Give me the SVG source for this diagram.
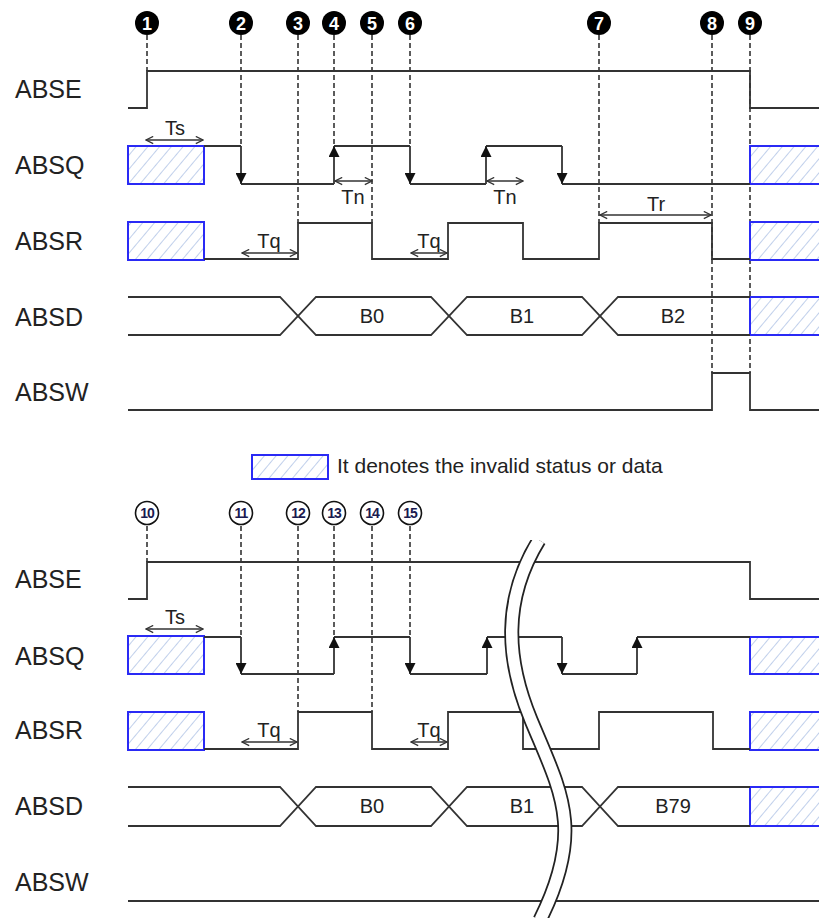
<svg xmlns="http://www.w3.org/2000/svg" width="819" height="918" viewBox="0 0 819 918">
<style>
.sig{fill:none;stroke:#333;stroke-width:1.8}
.dash{fill:none;stroke:#333;stroke-width:1.6;stroke-dasharray:5 3}
.arr{fill:none;stroke:#333;stroke-width:1.8;marker-end:url(#tri)}
.dim{fill:none;stroke:#333;stroke-width:1.3;marker-start:url(#open);marker-end:url(#open)}
.hat{fill:url(#hatch);stroke:#2a2af5;stroke-width:2}
.lbl{font-family:"Liberation Sans",Arial,sans-serif;font-size:25px;fill:#222}
.t{font-family:"Liberation Sans",Arial,sans-serif;font-size:20px;fill:#222;text-anchor:middle}
.num{font-family:"Liberation Sans",Arial,sans-serif;font-size:18px;font-weight:bold;fill:#fff;text-anchor:middle}
.num2{font-family:"Liberation Sans",Arial,sans-serif;font-size:14px;font-weight:bold;fill:#1a1a50;text-anchor:middle;letter-spacing:-1px}
</style>
<defs>
<pattern id="hatch" patternUnits="userSpaceOnUse" width="9" height="9" patternTransform="rotate(40)">
<line x1="0" y1="-1" x2="0" y2="10" stroke="#9fb6e0" stroke-width="1.3"/>
</pattern>
<marker id="tri" markerUnits="userSpaceOnUse" viewBox="0 0 10 10" refX="10" refY="5" markerWidth="11" markerHeight="11" orient="auto">
<path d="M0,0 L10,5 L0,10 z" fill="#111"/>
</marker>
<marker id="open" markerUnits="userSpaceOnUse" viewBox="0 0 10 10" refX="9" refY="5" markerWidth="9" markerHeight="9" orient="auto-start-reverse">
<path d="M1,1 L9,5 L1,9" fill="none" stroke="#333" stroke-width="1.4"/>
</marker>
</defs>
<rect width="819" height="918" fill="#fff"/>

<!-- ===== TOP SECTION ===== -->
<g id="top-labels">
<text class="lbl" x="15" y="98">ABSE</text>
<text class="lbl" x="15" y="174">ABSQ</text>
<text class="lbl" x="15" y="250">ABSR</text>
<text class="lbl" x="15" y="326">ABSD</text>
<text class="lbl" x="15" y="401">ABSW</text>
</g>

<g id="top-connectors">
<line class="dash" x1="147" y1="35" x2="147" y2="71"/>
<line class="dash" x1="241" y1="35" x2="241" y2="146"/>
<line class="dash" x1="298" y1="35" x2="298" y2="223"/>
<line class="dash" x1="334" y1="35" x2="334" y2="146"/>
<line class="dash" x1="372" y1="35" x2="372" y2="223"/>
<line class="dash" x1="410" y1="35" x2="410" y2="146"/>
<line class="dash" x1="599" y1="35" x2="599" y2="223"/>
<line class="dash" x1="712" y1="35" x2="712" y2="373"/>
<line class="dash" x1="750" y1="35" x2="750" y2="373"/>
</g>

<g id="top-markers">
<circle cx="147" cy="23" r="12" fill="#000"/><text class="num" x="147" y="29.5">1</text>
<circle cx="241" cy="23" r="12" fill="#000"/><text class="num" x="241" y="29.5">2</text>
<circle cx="298" cy="23" r="12" fill="#000"/><text class="num" x="298" y="29.5">3</text>
<circle cx="334" cy="23" r="12" fill="#000"/><text class="num" x="334" y="29.5">4</text>
<circle cx="372" cy="23" r="12" fill="#000"/><text class="num" x="372" y="29.5">5</text>
<circle cx="410" cy="23" r="12" fill="#000"/><text class="num" x="410" y="29.5">6</text>
<circle cx="599" cy="23" r="12" fill="#000"/><text class="num" x="599" y="29.5">7</text>
<circle cx="712" cy="23" r="12" fill="#000"/><text class="num" x="712" y="29.5">8</text>
<circle cx="750" cy="23" r="12" fill="#000"/><text class="num" x="750" y="29.5">9</text>
</g>

<g id="top-ABSE">
<path class="sig" d="M128,108 H147 V71 H750 V108 H819"/>
</g>

<g id="top-ABSQ">
<rect class="hat" x="128" y="146" width="76" height="38"/>
<rect class="hat" x="750" y="146" width="80" height="38"/>
<path class="sig" d="M204,146 H241 M241,184 H334 M334,146 H410 M410,184 H486 M486,146 H562 M562,184 H750"/>
<line class="arr" x1="241" y1="146" x2="241" y2="184"/>
<line class="arr" x1="410" y1="146" x2="410" y2="184"/>
<line class="arr" x1="562" y1="146" x2="562" y2="184"/>
<line class="arr" x1="334" y1="184" x2="334" y2="146"/>
<line class="arr" x1="486" y1="184" x2="486" y2="146"/>
<line class="dim" x1="146" y1="140" x2="203" y2="140"/>
<text class="t" x="175" y="135">Ts</text>
<line class="dim" x1="335" y1="181" x2="372" y2="181"/>
<text class="t" x="353" y="204">Tn</text>
<line class="dim" x1="487" y1="181" x2="523" y2="181"/>
<text class="t" x="505" y="204">Tn</text>
</g>

<g id="top-ABSR">
<rect class="hat" x="128" y="222" width="76" height="38"/>
<rect class="hat" x="750" y="222" width="80" height="38"/>
<path class="sig" d="M204,259 H298 V223 H372 V259 H448 V223 H523 V259 H599 V223 H712 V259 H750"/>
<line class="dim" x1="242" y1="253" x2="297" y2="253"/>
<text class="t" x="269" y="248">Tq</text>
<line class="dim" x1="411" y1="253" x2="447" y2="253"/>
<text class="t" x="429" y="248">Tq</text>
<line class="dim" x1="600" y1="215" x2="711" y2="215"/>
<text class="t" x="656" y="211">Tr</text>
</g>

<g id="top-ABSD">
<rect class="hat" x="750" y="297" width="80" height="38"/>
<path class="sig" d="M128,297 H280 L316,335 H431 L467,297 H582 L618,335 H750"/>
<path class="sig" d="M128,335 H280 L316,297 H431 L467,335 H582 L618,297 H750"/>
<text class="t" x="372" y="323">B0</text>
<text class="t" x="522" y="323">B1</text>
<text class="t" x="673" y="323">B2</text>
</g>

<g id="top-ABSW">
<path class="sig" d="M128,410 H712 V373 H750 V410 H819"/>
</g>

<g id="legend">
<rect class="hat" x="252" y="455" width="76" height="24"/>
<text x="337" y="473" font-family="Liberation Sans, Arial, sans-serif" font-size="21" fill="#222">It denotes the invalid status or data</text>
</g>

<!-- ===== BOTTOM SECTION ===== -->
<g id="bottom-labels">
<text class="lbl" x="15" y="588">ABSE</text>
<text class="lbl" x="15" y="665">ABSQ</text>
<text class="lbl" x="15" y="739">ABSR</text>
<text class="lbl" x="15" y="815">ABSD</text>
<text class="lbl" x="15" y="891">ABSW</text>
</g>

<g id="bottom-connectors">
<line class="dash" x1="147" y1="526" x2="147" y2="562"/>
<line class="dash" x1="241" y1="526" x2="241" y2="637"/>
<line class="dash" x1="298" y1="526" x2="298" y2="712"/>
<line class="dash" x1="334" y1="526" x2="334" y2="637"/>
<line class="dash" x1="372" y1="526" x2="372" y2="712"/>
<line class="dash" x1="410" y1="526" x2="410" y2="637"/>
</g>

<g id="bottom-markers" fill="#fff" stroke="#111" stroke-width="1.6">
<circle cx="147" cy="513" r="11.5"/>
<circle cx="241" cy="513" r="11.5"/>
<circle cx="298" cy="513" r="11.5"/>
<circle cx="334" cy="513" r="11.5"/>
<circle cx="372" cy="513" r="11.5"/>
<circle cx="410" cy="513" r="11.5"/>
</g>
<g id="bottom-marker-numbers">
<text class="num2" x="147" y="518">10</text>
<text class="num2" x="241" y="518">11</text>
<text class="num2" x="298" y="518">12</text>
<text class="num2" x="334" y="518">13</text>
<text class="num2" x="372" y="518">14</text>
<text class="num2" x="410" y="518">15</text>
</g>

<g id="bottom-ABSE">
<path class="sig" d="M128,599 H147 V562 H750 V599 H819"/>
</g>

<g id="bottom-ABSQ">
<rect class="hat" x="128" y="636" width="76" height="38"/>
<rect class="hat" x="750" y="637" width="80" height="37"/>
<path class="sig" d="M204,637 H241 M241,674 H334 M334,637 H410 M410,674 H487 M487,637 H562 M562,674 H637 M637,637 H750"/>
<line class="arr" x1="241" y1="637" x2="241" y2="674"/>
<line class="arr" x1="410" y1="637" x2="410" y2="674"/>
<line class="arr" x1="562" y1="637" x2="562" y2="674"/>
<line class="arr" x1="334" y1="674" x2="334" y2="637"/>
<line class="arr" x1="487" y1="674" x2="487" y2="637"/>
<line class="arr" x1="637" y1="674" x2="637" y2="637"/>
<line class="dim" x1="146" y1="629" x2="203" y2="629"/>
<text class="t" x="175" y="624">Ts</text>
</g>

<g id="bottom-ABSR">
<rect class="hat" x="128" y="712" width="76" height="38"/>
<rect class="hat" x="750" y="712" width="80" height="38"/>
<path class="sig" d="M204,749 H298 V712 H372 V749 H448 V712 H523 V749 H599 V712 H713 V749 H750"/>
<line class="dim" x1="242" y1="742" x2="297" y2="742"/>
<text class="t" x="269" y="737">Tq</text>
<line class="dim" x1="411" y1="742" x2="447" y2="742"/>
<text class="t" x="429" y="737">Tq</text>
</g>

<g id="bottom-ABSD">
<rect class="hat" x="750" y="787" width="80" height="39"/>
<path class="sig" d="M128,787 H280 L316,826 H431 L467,787 H582 L618,826 H750"/>
<path class="sig" d="M128,826 H280 L316,787 H431 L467,826 H582 L618,787 H750"/>
<text class="t" x="372" y="813">B0</text>
<text class="t" x="522" y="813">B1</text>
<text class="t" x="673" y="813">B79</text>
</g>

<g id="bottom-ABSW">
<path class="sig" d="M128,901 H819"/>
</g>

<g id="break">
<path d="M539,540 C502,600 506,660 531,720 C561,792 585,830 540,920" fill="none" stroke="#222" stroke-width="15"/>
<path d="M539,540 C502,600 506,660 531,720 C561,792 585,830 540,920" fill="none" stroke="#fff" stroke-width="11.5"/>
<rect x="490" y="530" width="100" height="10" fill="#fff"/>
</g>
</svg>
